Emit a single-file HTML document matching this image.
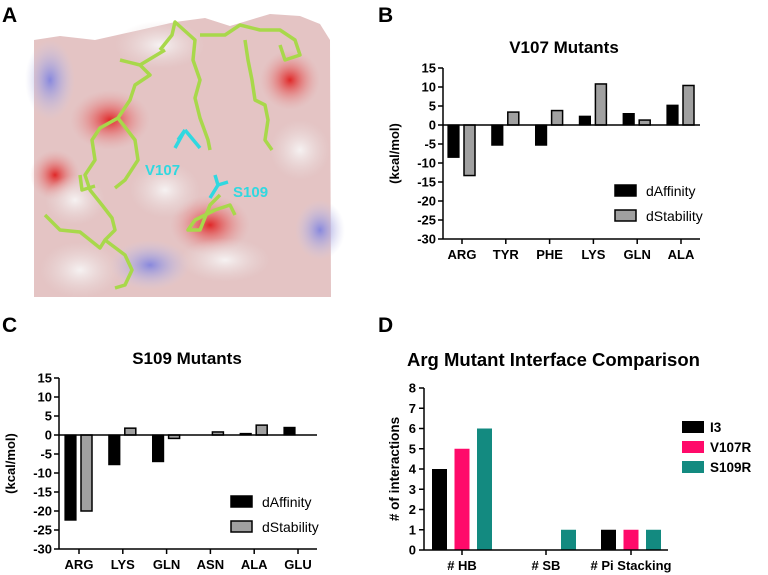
<!DOCTYPE html>
<html><head><meta charset="utf-8"><style>
body{margin:0;background:#fff;}
svg{display:block;font-family:"Liberation Sans",Arial,sans-serif;}
</style></head><body>
<svg id="fig" width="768" height="575" viewBox="0 0 768 575" xmlns="http://www.w3.org/2000/svg">
<defs>
<radialGradient id="rg1" cx="0.5" cy="0.5" r="0.5"><stop offset="0" stop-color="#e02828"/><stop offset="1" stop-color="#e8a0a0" stop-opacity="0"/></radialGradient>
<radialGradient id="rg2" cx="0.5" cy="0.5" r="0.5"><stop offset="0" stop-color="#8888dd"/><stop offset="1" stop-color="#c8c8e8" stop-opacity="0"/></radialGradient>
<radialGradient id="rg3" cx="0.5" cy="0.5" r="0.5"><stop offset="0" stop-color="#f6f2f2"/><stop offset="1" stop-color="#e8dada" stop-opacity="0"/></radialGradient>
</defs>
<g>
<text x="2" y="22" font-size="21" font-weight="bold">A</text>
<path d="M34 40 L60 36 L95 40 L140 30 L175 22 L205 18 L230 26 L270 14 L300 16 L320 24 L330 40 L331 297 L34 297 Z" fill="#e4c4c4"/>
<ellipse cx="50" cy="80" rx="25" ry="40" fill="url(#rg2)"/>
<ellipse cx="320" cy="230" rx="25" ry="30" fill="url(#rg2)"/>
<ellipse cx="150" cy="265" rx="40" ry="25" fill="url(#rg2)"/>
<ellipse cx="210" cy="225" rx="40" ry="30" fill="url(#rg1)"/>
<ellipse cx="290" cy="80" rx="30" ry="30" fill="url(#rg1)"/>
<ellipse cx="110" cy="120" rx="40" ry="30" fill="url(#rg1)"/>
<ellipse cx="55" cy="175" rx="25" ry="25" fill="url(#rg1)"/>
<ellipse cx="165" cy="190" rx="35" ry="28" fill="url(#rg3)"/>
<ellipse cx="80" cy="270" rx="40" ry="28" fill="url(#rg3)"/>
<ellipse cx="225" cy="260" rx="45" ry="22" fill="url(#rg3)"/>
<ellipse cx="160" cy="45" rx="45" ry="24" fill="url(#rg3)"/>
<ellipse cx="75" cy="200" rx="30" ry="25" fill="url(#rg3)"/>
<ellipse cx="300" cy="150" rx="30" ry="30" fill="url(#rg3)"/>
<g fill="none" stroke="#a8d84a" stroke-width="3.5" stroke-linejoin="round">
<path d="M120 60 L140 65 L150 75 L135 85 L130 100 L118 118 L100 128 L92 140 L95 160 L85 175 L90 190 L102 205 L112 218 L115 230 L105 240 L100 248 L80 232 L60 230 L45 215"/>
<path d="M160 50 L172 35 L175 22 L195 40 L193 60 L200 80 L195 98 L200 118 L208 140 L210 150"/>
<path d="M200 35 L225 35 L240 25 L260 30 L280 30 L295 40 L300 55 L285 60 L280 45"/>
<path d="M245 40 L248 60 L252 80 L255 100 L265 105 L268 120 L265 140 L272 150"/>
<path d="M140 65 L165 50 M118 118 L135 140 L138 160 L125 180 L115 188 M105 240 L125 255 L132 270 L125 285 L115 288"/>
<path d="M220 195 L210 205 L200 230 L188 230 L195 220 L215 210 L230 205 L235 215"/>
<path d="M80 175 L82 190 L95 186"/>
</g>
<g fill="none" stroke="#30d8e0" stroke-width="3.5">
<path d="M185 130 L175 148 M185 130 L195 142 L200 148 M185 130 L178 140"/>
<path d="M215 175 L218 185 L210 198 M218 185 L228 182"/>
</g>
<text x="145" y="175" font-size="15" font-weight="bold" fill="#30d8e0">V107</text>
<text x="233" y="197" font-size="15" font-weight="bold" fill="#30d8e0">S109</text>
</g>
<text x="378" y="22" font-size="21" font-weight="bold">B</text>
<text x="2" y="332" font-size="21" font-weight="bold">C</text>
<text x="378" y="332" font-size="21" font-weight="bold">D</text>
<g id="chartB"></g>
<g id="chartC"></g>
<g id="chartD"></g>
</svg>
<script>
const bCats=["ARG","TYR","PHE","LYS","GLN","ALA"];
const bAff=[-8.5,-5.3,-5.3,2.3,3,5.2];
const bStab=[-13.3,3.4,3.8,10.8,1.3,10.4];
const cCats=["ARG","LYS","GLN","ASN","ALA","GLU"];
const cAff=[-22.4,-7.8,-7,0,0.4,2];
const cStab=[-20,1.8,-0.9,0.8,2.6,0];
const eTicks=[15,10,5,0,-5,-10,-15,-20,-25,-30];
const dCats=["# HB","# SB","# Pi Stacking"];
const dI3=[4,0,1];
const dV107R=[5,0,1];
const dS109R=[6,1,1];
const dTicks=[0,1,2,3,4,5,6,7,8];
const dSeriesNames=["I3","V107R","S109R"];

const NS="http://www.w3.org/2000/svg";
function mk(p,tag,at,txt){const e=document.createElementNS(NS,tag);for(const k in at)e.setAttribute(k,at[k]);if(txt!==undefined)e.textContent=txt;p.appendChild(e);return e;}

function energyChart(g,cfg,cats,aff,stab){
  const y=v=>cfg.y0+(v-15)*(cfg.yMin-cfg.y0)/(-45);
  const x=i=>cfg.tick0+i*cfg.step;
  let t=mk(g,"text",{x:cfg.titleX,y:cfg.titleY,"font-size":17,"font-weight":"bold","text-anchor":"middle"},cfg.title);
  
  
  let yt=mk(g,"text",{x:0,y:0,"font-size":13,"font-weight":"bold","text-anchor":"middle",transform:`translate(${cfg.ax-44},${y(-7.5)}) rotate(-90)`},"(kcal/mol)");
  
  
  eTicks.forEach(v=>{
    let tk=mk(g,"line",{x1:cfg.ax-5,x2:cfg.ax,y1:y(v),y2:y(v),stroke:"#000","stroke-width":1.5});
    
    
    let l=mk(g,"text",{x:cfg.ax-7,y:y(v)+4.5,"font-size":13,"font-weight":"bold","text-anchor":"end"},String(v));
    
    
  });
  cats.forEach((c,i)=>{
    const w=11;
    const a=aff[i],s=stab[i];
    let r1=mk(g,"rect",{x:x(i)-w-3,y:Math.min(y(a),y(0)),width:w,height:Math.abs(y(a)-y(0)),fill:"#000",stroke:"#000","stroke-width":1.2});
    
    
    let r2=mk(g,"rect",{x:x(i)+2,y:Math.min(y(s),y(0)),width:w,height:Math.abs(y(s)-y(0)),fill:"#a0a0a0",stroke:"#000","stroke-width":1.5});
    
    
    let tk=mk(g,"line",{x1:x(i),x2:x(i),y1:y(-30),y2:y(-30)+5,stroke:"#000","stroke-width":1.5});
    
    
    let l=mk(g,"text",{x:x(i),y:y(-30)+20,"font-size":13,"font-weight":"bold","text-anchor":"middle"},c);
    
    
  });
  let ya=mk(g,"line",{x1:cfg.ax,x2:cfg.ax,y1:y(15),y2:y(-30),stroke:"#000","stroke-width":1.5});
  
  
  let xa=mk(g,"line",{x1:cfg.ax,x2:cfg.axEnd,y1:y(-30),y2:y(-30),stroke:"#000","stroke-width":1.5});
  
  
  let zl=mk(g,"line",{x1:cfg.ax,x2:cfg.axEnd,y1:y(0),y2:y(0),stroke:"#000","stroke-width":1.5});
  
  
  [["dAffinity","#000"],["dStability","#a0a0a0"]].forEach((e,k)=>{
    const ly=cfg.legY+k*25;
    let b=mk(g,"rect",{x:cfg.legX,y:ly,width:21,height:11,fill:e[1],stroke:"#000","stroke-width":1.5});
    
    
    let tx=mk(g,"text",{x:cfg.legX+31,y:ly+11,"font-size":14},e[0]);
    
    
  });
}
energyChart(document.getElementById("chartB"),{title:"V107 Mutants",titleX:564,titleY:53,ax:443,axEnd:700,y0:68,yMin:239,tick0:462,step:43.8,legX:615,legY:185},bCats,bAff,bStab);
energyChart(document.getElementById("chartC"),{title:"S109 Mutants",titleX:187,titleY:364,ax:59,axEnd:317,y0:378,yMin:549,tick0:79,step:43.8,legX:231,legY:496},cCats,cAff,cStab);

(function(){
  const g=document.getElementById("chartD");
  const ax=424,axEnd=668,y0=550,y8=388;
  const y=v=>y0+v*(y8-y0)/8;
  const x=i=>[462,546,631][i];
  const cols=["#000","#ff0a6a","#138a80"];
  const series=[dI3,dV107R,dS109R];
  let t=mk(g,"text",{x:407,y:366,"font-size":18.5,"font-weight":"bold"},"Arg Mutant Interface Comparison");
  
  
  let yt=mk(g,"text",{x:0,y:0,"font-size":13.5,"font-weight":"bold","text-anchor":"middle",transform:`translate(399,${y(4)}) rotate(-90)`},"# of interactions");
  
  
  dTicks.forEach(v=>{
    let tk=mk(g,"line",{x1:ax-5,x2:ax,y1:y(v),y2:y(v),stroke:"#000","stroke-width":1.5});
    
    
    let l=mk(g,"text",{x:ax-8,y:y(v)+4.5,"font-size":13,"font-weight":"bold","text-anchor":"end"},String(v));
    
    
  });
  dCats.forEach((c,i)=>{
    series.forEach((s,k)=>{
      if(s[i]<=0)return;
      let r=mk(g,"rect",{x:x(i)-30+k*22.5,y:y(s[i]),width:15,height:y(0)-y(s[i]),fill:cols[k]});
      
      
    });
    let tk=mk(g,"line",{x1:x(i),x2:x(i),y1:y0,y2:y0+5,stroke:"#000","stroke-width":1.5});
    
    
    let l=mk(g,"text",{x:x(i),y:y0+20,"font-size":13,"font-weight":"bold","text-anchor":"middle"},c);
    
    
  });
  let ya=mk(g,"line",{x1:ax,x2:ax,y1:y(8),y2:y0,stroke:"#000","stroke-width":1.5});
  
  
  let xa=mk(g,"line",{x1:ax,x2:axEnd,y1:y0,y2:y0,stroke:"#000","stroke-width":1.5});
  
  
  dSeriesNames.forEach((n,k)=>{
    const ly=421+k*20;
    let b=mk(g,"rect",{x:682,y:ly,width:22,height:12,fill:cols[k]});
    
    
    let tx=mk(g,"text",{x:710,y:ly+11,"font-size":13.5,"font-weight":"bold"},n);
    
    
  });
})();
</script>
</body></html>
